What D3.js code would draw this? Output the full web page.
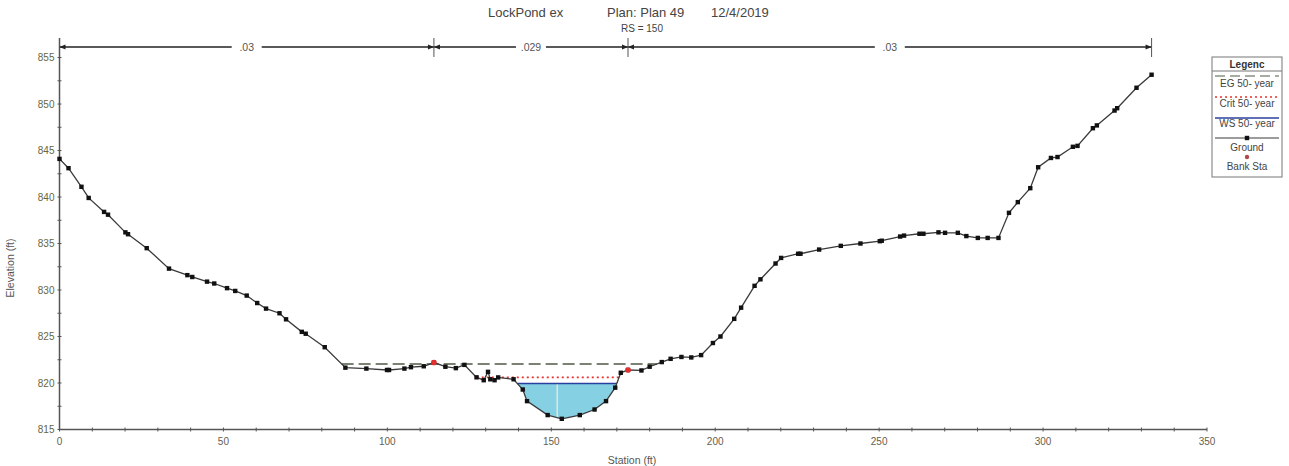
<!DOCTYPE html>
<html>
<head>
<meta charset="utf-8">
<script src="https://d3js.org/d3.v7.min.js"></script>
<style>
  body { margin: 0; background: #fff; }
  text { font-family: "Liberation Sans", Arial, sans-serif; }
</style>
</head>
<body>
<div id="chart"></div>
<script>
// ground profile, station (ft) / elevation (ft)
const stations = [0, 2.75, 6.7, 8.9, 13.6, 14.8, 20.1, 20.9, 26.6, 33.4, 39.0, 40.5, 45.0, 47.2, 51.1, 53.6,
  57.1, 60.3, 63.0, 67.1, 69.1, 73.9, 75.1, 80.9, 87.2, 93.6, 99.9, 100.5, 105.2, 107.2, 111.1, 114.2,
  117.7, 120.9, 123.5, 127.2, 129.4, 130.7, 131.4, 132.7, 133.8, 138.5, 141.3, 142.6, 148.9, 153.2,
  158.7, 163.2, 166.7, 169.5, 171.2, 173.4, 177.5, 180.0, 183.7, 186.4, 189.7, 192.7, 195.7, 199.3,
  201.6, 205.8, 207.9, 212.0, 213.8, 218.4, 220.1, 225.3, 226.0, 231.7, 238.3, 244.3, 250.2, 250.8,
  256.4, 257.6, 262.3, 263.5, 268.1, 270.1, 274.0, 276.6, 280.1, 283.1, 286.4, 289.6, 292.3, 296.1,
  298.5, 302.4, 304.4, 309.1, 310.5, 315.2, 316.4, 321.8, 322.6, 328.5, 333.1];
const elevations = [844.1, 843.1, 841.1, 839.9, 838.4, 838.1, 836.2, 836.0, 834.5, 832.3, 831.6, 831.4, 830.9, 830.7, 830.2, 829.9,
  829.4, 828.6, 828.0, 827.5, 826.85, 825.5, 825.3, 823.85, 821.65, 821.55, 821.4, 821.4, 821.55, 821.7, 821.8, 822.2,
  821.75, 821.6, 821.95, 820.61, 820.3, 821.2, 820.4, 820.3, 820.6, 820.4, 819.3, 818.05, 816.55, 816.15,
  816.55, 817.15, 818.05, 819.5, 821.1, 821.4, 821.35, 821.75, 822.25, 822.6, 822.8, 822.75, 823.0, 824.3,
  825.0, 826.9, 828.1, 830.45, 831.15, 832.85, 833.45, 833.9, 833.9, 834.35, 834.75, 835.0, 835.25, 835.3,
  835.75, 835.85, 836.05, 836.05, 836.2, 836.15, 836.15, 835.8, 835.6, 835.6, 835.6, 838.3, 839.45, 840.95,
  843.2, 844.2, 844.3, 845.4, 845.5, 847.4, 847.7, 849.3, 849.55, 851.75, 853.15];

const bankStations = [114.2, 173.4];
const roughnessBreaks = [0, 114.2, 173.4, 333.1];
const roughnessValues = [".03", ".029", ".03"];

const egElev = 822.05;
const critElev = 820.6;
const wsElev = 819.95;

const xTicks = [0, 50, 100, 150, 200, 250, 300, 350];
const yTicks = [815, 820, 825, 830, 835, 840, 845, 850, 855];

const legendItems = ["EG 50- year", "Crit 50- year", "WS 50- year", "Ground", "Bank Sta"];

const W = 1289, H = 466;
const svg = d3.select("#chart").append("svg").attr("width", W).attr("height", H);

const x = d3.scaleLinear().domain([0, 350]).range([59.5, 1207]);
const y = d3.scaleLinear().domain([815, 857.1]).range([429.5, 38]);

const ground = stations.map((s, i) => ({ s: s, e: elevations[i] }));

// where a level meets the ground, scanning in from each side
function wetExtent(level) {
  let i0 = ground.findIndex(d => d.e < level);
  let i1 = ground.length - 1;
  while (ground[i1].e >= level) i1--;
  const a = ground[i0 - 1], b = ground[i0];
  const left = a.s + (level - a.e) / (b.e - a.e) * (b.s - a.s);
  const c = ground[i1], d = ground[i1 + 1];
  const right = c.s + (level - c.e) / (d.e - c.e) * (d.s - c.s);
  return { left, right, i0, i1 };
}

// water fill
const ws = wetExtent(wsElev);
const waterPts = [[ws.left, wsElev]]
  .concat(ground.slice(ws.i0, ws.i1 + 1).map(d => [d.s, d.e]))
  .concat([[ws.right, wsElev]]);
svg.append("path")
  .attr("d", d3.line().x(d => x(d[0])).y(d => y(d[1]))(waterPts) + "Z")
  .attr("fill", "#86d0e3");

svg.append("line")
  .attr("x1", x(151.8)).attr("x2", x(151.8))
  .attr("y1", y(wsElev)).attr("y2", y(816.3))
  .attr("stroke", "#f6ecd6").attr("stroke-width", 1.2);

svg.append("line")
  .attr("x1", x(ws.left)).attr("x2", x(ws.right))
  .attr("y1", y(wsElev)).attr("y2", y(wsElev))
  .attr("stroke", "#2b3f9e").attr("stroke-width", 1.5);

// crit line
const cr = wetExtent(critElev);
svg.append("line")
  .attr("x1", x(cr.left)).attr("x2", x(cr.right))
  .attr("y1", y(critElev)).attr("y2", y(critElev))
  .attr("stroke", "#e8302c").attr("stroke-width", 1.6)
  .attr("stroke-dasharray", "2,3");

// EG line
const eg = wetExtent(egElev);
svg.append("line")
  .attr("x1", x(eg.left)).attr("x2", x(eg.right))
  .attr("y1", y(egElev)).attr("y2", y(egElev))
  .attr("stroke", "#4d5a45").attr("stroke-width", 1.5)
  .attr("stroke-dasharray", "12,5");

// axes
const axisColor = "#555";
svg.append("line").attr("x1", x(0)).attr("x2", x(350)).attr("y1", y(815)).attr("y2", y(815))
  .attr("stroke", axisColor).attr("stroke-width", 1.5);
svg.append("line").attr("x1", x(0)).attr("x2", x(0)).attr("y1", 38).attr("y2", y(815))
  .attr("stroke", axisColor).attr("stroke-width", 1.5);

svg.append("g").selectAll("line").data(d3.range(0, 351, 10)).join("line")
  .attr("x1", d => x(d)).attr("x2", d => x(d))
  .attr("y1", y(815) - 2).attr("y2", y(815) + 2)
  .attr("stroke", axisColor).attr("stroke-width", 1);
svg.append("g").selectAll("line").data(d3.range(815, 857, 2.5)).join("line")
  .attr("x1", x(0) - 2).attr("x2", x(0) + 2)
  .attr("y1", d => y(d)).attr("y2", d => y(d))
  .attr("stroke", axisColor).attr("stroke-width", 1);

svg.append("g").selectAll("text").data(xTicks).join("text")
  .attr("x", d => x(d)).attr("y", y(815) + 15)
  .attr("text-anchor", "middle").attr("font-size", 10).attr("fill", "#66604f")
  .text(d => d);
svg.append("g").selectAll("text").data(yTicks).join("text")
  .attr("x", x(0) - 5).attr("y", d => y(d) + 3.5)
  .attr("text-anchor", "end").attr("font-size", 10).attr("fill", "#66663f")
  .text(d => d);

svg.append("text").attr("x", 632).attr("y", 464).attr("text-anchor", "middle")
  .attr("font-size", 10.5).attr("fill", "#555").text("Station (ft)");
svg.append("text").attr("transform", "translate(14,268) rotate(-90)").attr("text-anchor", "middle")
  .attr("font-size", 10.5).attr("fill", "#555").text("Elevation (ft)");

// ground line and points
svg.append("path")
  .attr("d", d3.line().x(d => x(d.s)).y(d => y(d.e))(ground))
  .attr("fill", "none").attr("stroke", "#3a3a3a").attr("stroke-width", 1.3);
svg.append("g").selectAll("rect").data(ground).join("rect")
  .attr("x", d => x(d.s) - 2.2).attr("y", d => y(d.e) - 2.2)
  .attr("width", 4.4).attr("height", 4.4).attr("fill", "#111");

svg.append("g").selectAll("circle").data(bankStations).join("circle")
  .attr("cx", d => x(d))
  .attr("cy", d => y(ground.find(g => g.s === d).e))
  .attr("r", 2.8).attr("fill", "#e3302c");

// roughness bar
const barY = 47;
svg.append("line").attr("x1", x(roughnessBreaks[0])).attr("x2", x(roughnessBreaks[3]))
  .attr("y1", barY).attr("y2", barY).attr("stroke", "#222").attr("stroke-width", 1.3);
svg.append("g").selectAll("line").data(roughnessBreaks).join("line")
  .attr("x1", d => x(d)).attr("x2", d => x(d))
  .attr("y1", barY - 9).attr("y2", barY + 10)
  .attr("stroke", "#555").attr("stroke-width", 1);
const arrows = [];
roughnessBreaks.forEach((b, i) => {
  if (i > 0) arrows.push({ s: b, dir: 1 });
  if (i < roughnessBreaks.length - 1) arrows.push({ s: b, dir: -1 });
});
svg.append("g").selectAll("path").data(arrows).join("path")
  .attr("d", d => {
    const px = x(d.s);
    return `M${px},${barY} L${px - d.dir * 6},${barY - 2.5} L${px - d.dir * 6},${barY + 2.5}Z`;
  })
  .attr("fill", "#222");
const nLabels = roughnessValues.map((v, i) => ({ v, s: (roughnessBreaks[i] + roughnessBreaks[i + 1]) / 2 }));
svg.append("g").selectAll("rect").data(nLabels).join("rect")
  .attr("x", d => x(d.s) - 15).attr("y", barY - 6).attr("width", 30).attr("height", 12)
  .attr("fill", "#fff");
svg.append("g").selectAll("text").data(nLabels).join("text")
  .attr("x", d => x(d.s)).attr("y", barY + 4)
  .attr("text-anchor", "middle").attr("font-size", 10.5).attr("fill", "#555")
  .text(d => d.v);

// title
const title = svg.append("text").attr("y", 17).attr("font-size", 13).attr("fill", "#444");
title.append("tspan").attr("x", 488).text("LockPond ex");
title.append("tspan").attr("x", 607).text("Plan: Plan 49");
title.append("tspan").attr("x", 711).text("12/4/2019");
svg.append("text").attr("x", 621).attr("y", 32).attr("font-size", 10).attr("fill", "#444")
  .text("RS = 150");

// legend
const lg = svg.append("g").attr("transform", "translate(1212,57)");
lg.append("rect").attr("width", 70).attr("height", 120)
  .attr("fill", "#fff").attr("stroke", "#777").attr("stroke-width", 1);
lg.append("text").attr("x", 35).attr("y", 10.5).attr("text-anchor", "middle")
  .attr("font-size", 10).attr("font-weight", "bold").attr("fill", "#333").text("Legenc");
lg.append("line").attr("x1", 0).attr("x2", 70).attr("y1", 14).attr("y2", 14)
  .attr("stroke", "#777");
const swY = [19, 40, 61, 81, 100];
const txY = [30, 50, 70, 94, 113];
lg.append("line").attr("x1", 3).attr("x2", 67).attr("y1", swY[0]).attr("y2", swY[0])
  .attr("stroke", "#4d5a45").attr("stroke-width", 1.2).attr("stroke-dasharray", "10,5");
lg.append("line").attr("x1", 3).attr("x2", 67).attr("y1", swY[1]).attr("y2", swY[1])
  .attr("stroke", "#e8302c").attr("stroke-width", 1.4).attr("stroke-dasharray", "2,3");
lg.append("line").attr("x1", 3).attr("x2", 67).attr("y1", swY[2]).attr("y2", swY[2])
  .attr("stroke", "#2b3f9e").attr("stroke-width", 1.4);
lg.append("line").attr("x1", 3).attr("x2", 67).attr("y1", swY[3]).attr("y2", swY[3])
  .attr("stroke", "#3a3a3a").attr("stroke-width", 1.2);
lg.append("rect").attr("x", 32.8).attr("y", swY[3] - 2.2).attr("width", 4.4).attr("height", 4.4)
  .attr("fill", "#111");
lg.append("circle").attr("cx", 35).attr("cy", swY[4]).attr("r", 2.2).attr("fill", "#b04a4a");
lg.selectAll("text.item").data(legendItems).join("text").attr("class", "item")
  .attr("x", 35).attr("y", (d, i) => txY[i]).attr("text-anchor", "middle")
  .attr("font-size", 10).attr("fill", "#444").text(d => d);
</script>
</body>
</html>
